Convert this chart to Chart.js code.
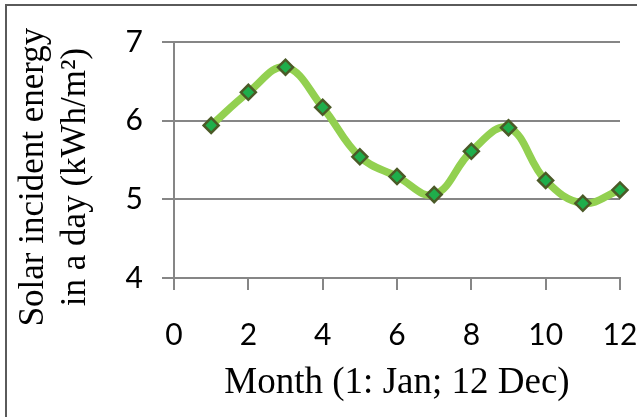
<!DOCTYPE html>
<html>
<head>
<meta charset="utf-8">
<script src="https://cdn.jsdelivr.net/npm/chart.js@4"></script>
<style>
  html, body { margin: 0; padding: 0; background: #fff; }
  #wrap { width: 637px; height: 417px; }
</style>
</head>
<body>
<div id="wrap"><canvas id="chart" width="637" height="417"></canvas></div>
<script>
// monthly solar incident energy (kWh/m2 per day)
const months = [1, 2, 3, 4, 5, 6, 7, 8, 9, 10, 11, 12];
const energy = [5.94, 6.36, 6.68, 6.17, 5.54, 5.29, 5.06, 5.61, 5.91, 5.24, 4.95, 5.12];
const yTitleLines = ['Solar incident energy', 'in a day (kWh/m\u00B2)'];
const xTitle = 'Month (1: Jan; 12 Dec)';

const gridGray = '#868686';

// frame around the chart + rotated y title
const framePlugin = {
  id: 'frame',
  beforeDraw(chart) {
    const ctx = chart.ctx;
    ctx.save();
    ctx.fillStyle = '#fff';
    ctx.fillRect(0, 0, chart.width, chart.height);
    ctx.strokeStyle = '#5a5a5a';
    ctx.lineWidth = 2;
    ctx.beginPath();
    ctx.moveTo(6, chart.height);
    ctx.lineTo(6, 5);
    ctx.lineTo(chart.width, 5);
    ctx.stroke();
    ctx.restore();
  },
  afterDraw(chart) {
    const ctx = chart.ctx;
    ctx.save();
    ctx.fillStyle = '#000';
    ctx.font = '35px "Liberation Serif", "Times New Roman", serif';
    ctx.textAlign = 'center';
    ctx.textBaseline = 'alphabetic';
    const baselines = [43, 85];
    yTitleLines.forEach((line, i) => {
      ctx.save();
      ctx.translate(baselines[i], 177);
      ctx.rotate(-Math.PI / 2);
      ctx.fillText(line, 0, 0);
      ctx.restore();
    });
    ctx.restore();
  }
};

const ctx = document.getElementById('chart').getContext('2d');
new Chart(ctx, {
  type: 'line',
  data: {
    datasets: [{
      data: months.map((m, i) => ({ x: m, y: energy[i] })),
      borderColor: '#92D050',
      borderWidth: 7.5,
      tension: 0.4,
      fill: false,
      clip: false,
      pointStyle: 'rectRot',
      pointRadius: 7.5,
      pointBackgroundColor: '#1FAE4B',
      pointBorderColor: '#4B5A27',
      pointBorderWidth: 2.5
    }]
  },
  options: {
    responsive: false,
    animation: false,
    events: [],
    layout: { padding: { top: 42, right: 17, left: 0, bottom: 0 } },
    plugins: { legend: { display: false }, tooltip: { enabled: false } },
    scales: {
      x: {
        type: 'linear',
        min: 0,
        max: 12,
        afterFit(scale) {
          scale.height = 139;
          scale.paddingLeft = 0;
          scale.paddingRight = 0;
        },
        ticks: {
          stepSize: 2,
          padding: 27,
          color: '#000',
          maxRotation: 0,
          font: { family: 'Lato', size: 30 }
        },
        grid: {
          drawOnChartArea: false,
          drawTicks: true,
          tickLength: 12,
          color: gridGray,
          lineWidth: 2
        },
        border: { display: true, color: gridGray, width: 2 },
        title: {
          display: true,
          text: xTitle,
          color: '#000',
          font: { family: 'Liberation Serif', size: 37 },
          padding: { top: 0, bottom: 12 }
        }
      },
      y: {
        min: 4,
        max: 7,
        afterFit(scale) {
          scale.width = 174;
          scale.paddingTop = 0;
          scale.paddingBottom = 0;
        },
        ticks: {
          stepSize: 1,
          padding: 19,
          color: '#000',
          font: { family: 'Lato', size: 30 }
        },
        grid: {
          drawTicks: true,
          tickLength: 12,
          color: gridGray,
          lineWidth: 2
        },
        border: { display: true, color: gridGray, width: 2 }
      }
    }
  },
  plugins: [framePlugin]
});
</script>
</body>
</html>
